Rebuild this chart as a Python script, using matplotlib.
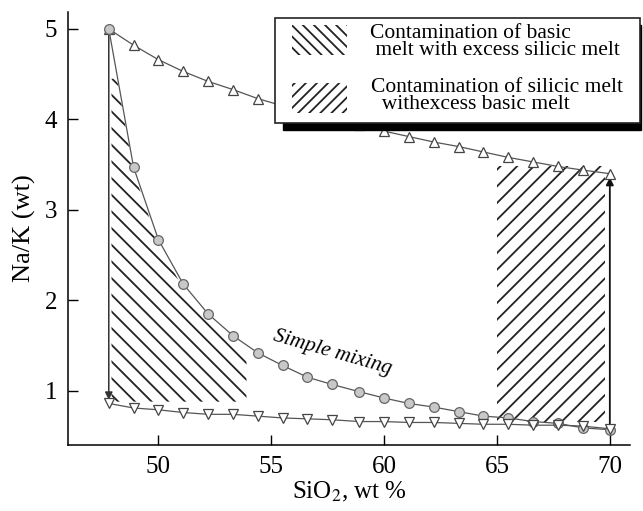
import matplotlib
matplotlib.use('Agg')
import matplotlib.pyplot as plt
import numpy as np
from matplotlib.patches import Rectangle

plt.rcParams['font.family'] = ['Liberation Serif', 'DejaVu Serif']
plt.rcParams['mathtext.fontset'] = 'stix'
plt.rcParams['hatch.linewidth'] = 1.3

# SiO2 positions of the model points
sio2 = [47.8, 48.9, 50.0, 51.1, 52.2, 53.3, 54.4, 55.5, 56.6, 57.7, 58.9,
        60.0, 61.1, 62.2, 63.3, 64.4, 65.5, 66.6, 67.7, 68.8, 70.0]
# upper curve (triangles up)
upper = [5.00, 4.82, 4.66, 4.53, 4.42, 4.33, 4.23, 4.15, 4.08, 4.01, 3.94,
         3.87, 3.81, 3.75, 3.70, 3.64, 3.58, 3.53, 3.48, 3.44, 3.40]
# simple mixing (circles)
mixing = [5.00, 3.47, 2.67, 2.18, 1.85, 1.61, 1.42, 1.28, 1.15, 1.07, 0.99,
          0.92, 0.86, 0.82, 0.77, 0.72, 0.70, 0.66, 0.64, 0.59, 0.57]
# lower curve (triangles down)
lower = [0.86, 0.81, 0.79, 0.76, 0.74, 0.74, 0.72, 0.70, 0.69, 0.68, 0.66,
         0.66, 0.65, 0.65, 0.64, 0.63, 0.63, 0.62, 0.62, 0.61, 0.58]

# hatched areas
basic_x = (47.8, 53.9)
basic_bottom = 0.88
basic_cap = 4.45
silicic_x = (65.0, 69.8)
silicic_y = (0.65, 3.48)

fig = plt.figure(figsize=(6.43, 5.11), dpi=100)
ax = fig.add_axes([0.106, 0.129, 0.874, 0.848])

# left hatched region: under the mixing curve
xx = np.linspace(basic_x[0] + 0.12, basic_x[1], 200)
top = np.minimum(np.interp(xx, sio2, mixing) - 0.05, basic_cap)
ax.fill_between(xx, basic_bottom, top, facecolor='none', edgecolor='#222222',
                hatch='\\\\', linewidth=0, zorder=1)
# right hatched region
ax.add_patch(Rectangle((silicic_x[0], silicic_y[0]), silicic_x[1] - silicic_x[0],
                       silicic_y[1] - silicic_y[0], facecolor='none',
                       edgecolor='#222222', hatch='//', linewidth=0, zorder=1))

ax.plot(sio2, upper, '-', color='#555555', lw=0.9, marker='^', ms=7.5,
        mfc='white', mec='#444444', mew=0.9, zorder=3)
ax.plot(sio2, mixing, '-', color='#555555', lw=0.9, marker='o', ms=7,
        mfc='#c8c8c8', mec='#666666', mew=0.9, zorder=3)
ax.plot(sio2, lower, '-', color='#555555', lw=0.9, marker='v', ms=7.5,
        mfc='white', mec='#444444', mew=0.9, zorder=3)

# arrows
ax.annotate('', xy=(sio2[0], 0.9), xytext=(sio2[0], upper[0]),
            arrowprops=dict(arrowstyle='-|>', color='#333333', lw=1.1,
                            mutation_scale=11, shrinkA=0, shrinkB=0), zorder=2)
ax.annotate('', xy=(sio2[-1], 3.36), xytext=(sio2[-1], lower[-1]),
            arrowprops=dict(arrowstyle='-|>', color='#111111', lw=1.3,
                            mutation_scale=11, shrinkA=0, shrinkB=0), zorder=2)

ax.text(57.7, 1.42, 'Simple mixing', rotation=-16, style='italic',
        fontsize=15.5, ha='center', va='center', zorder=4)

ax.set_xlim(46.0, 70.9)
ax.set_ylim(0.4, 5.19)
ax.set_xticks([50, 55, 60, 65, 70])
ax.set_yticks([1, 2, 3, 4, 5])
ax.tick_params(direction='in', length=7, width=1, labelsize=18, pad=8)
for s in ['top', 'right']:
    ax.spines[s].set_visible(False)
for s in ['left', 'bottom']:
    ax.spines[s].set_linewidth(1.1)
ax.set_xlabel('SiO$_2$, wt %', fontsize=18, labelpad=1)
ax.set_ylabel('Na/K (wt)', fontsize=19, labelpad=6)


# legend box, drawn in figure pixels
def px(x, y):
    return (x / 643.0, 1 - y / 511.0)


def prect(x0, y0, x1, y1, **kw):
    r = Rectangle(px(x0, y1), (x1 - x0) / 643.0, (y1 - y0) / 511.0,
                  transform=fig.transFigure, **kw)
    fig.add_artist(r)


prect(283, 25, 641, 130, facecolor='black', edgecolor='black', zorder=10)
prect(275, 18, 640, 123, facecolor='white', edgecolor='#222222', lw=1.2, zorder=11)
prect(292, 25, 347, 55, facecolor='none', edgecolor='#222222', hatch='\\\\\\',
      lw=0, zorder=12)
prect(292, 83, 347, 113, facecolor='none', edgecolor='#222222', hatch='///',
      lw=0, zorder=12)
fig.text(*px(370, 42), 'Contamination of basic\n melt with excess silicic melt',
         fontsize=15.5, va='center', ha='left', linespacing=0.8, zorder=13)
fig.text(*px(371, 96), 'Contamination of silicic melt\n  withexcess basic melt',
         fontsize=15.5, va='center', ha='left', linespacing=0.8, zorder=13)

fig.savefig('out.png', dpi=100)
